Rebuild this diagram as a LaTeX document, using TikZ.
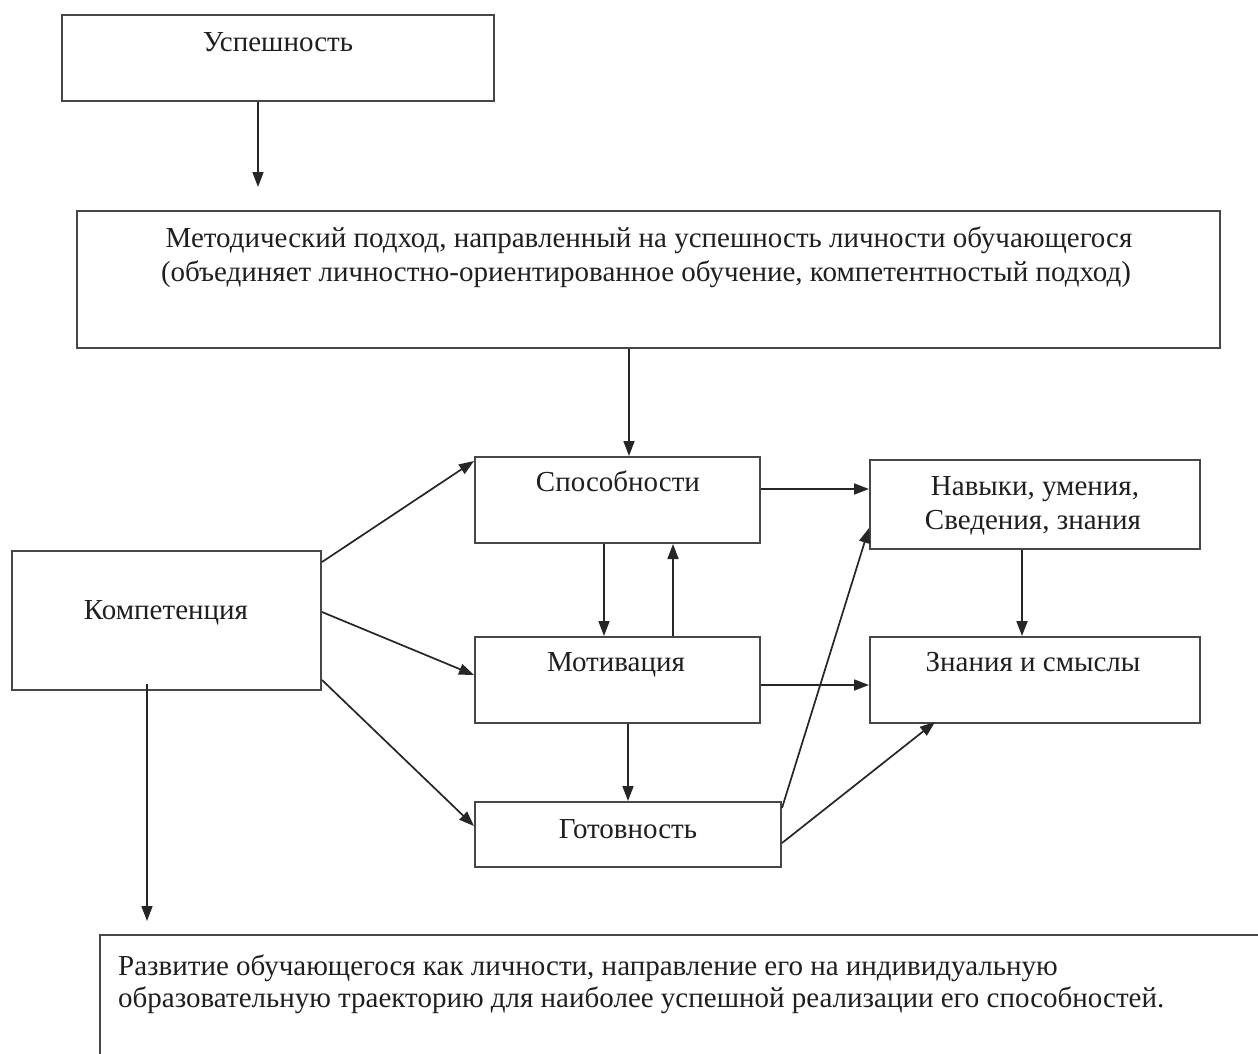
\documentclass[tikz,border=0pt]{standalone}
\usepackage{fontspec}
\setmainfont{Liberation Serif}
\usetikzlibrary{arrows.meta}
\begin{document}
\begin{tikzpicture}[x=1pt,y=-1pt,
  box/.style={draw=black!72, line width=2pt, rectangle, inner sep=0pt},
  txt/.style={anchor=base, inner sep=0pt, font=\fontsize{29}{34}\selectfont, text=black!88},
  ltxt/.style={txt, anchor=base west},
  arr/.style={draw=black!85, line width=1.7pt, -{Triangle[length=15pt,width=11pt]}}]
\useasboundingbox (0,0) rectangle (1258,1053);
\fill[white] (0,0) rectangle (1258,1053);
% boxes
\node[box, minimum width=432pt, minimum height=86pt] (usp) at (278,58) {};
\node[box, minimum width=1143pt, minimum height=137pt] (met) at (648.5,279.5) {};
\node[box, minimum width=285pt, minimum height=86pt] (spo) at (617.5,500) {};
\node[box, minimum width=330pt, minimum height=89pt] (nav) at (1035,504.5) {};
\node[box, minimum width=309pt, minimum height=139pt] (kom) at (166.5,620.5) {};
\node[box, minimum width=285pt, minimum height=86pt] (mot) at (617.5,680) {};
\node[box, minimum width=330pt, minimum height=86pt] (zna) at (1035,680) {};
\node[box, minimum width=306pt, minimum height=65pt] (got) at (628,834.5) {};
\begin{scope}
\clip (0,0) rectangle (1258,1053);
\node[box, minimum width=1180pt, minimum height=140pt] (raz) at (690,1005) {};
\end{scope}
% texts
\node[txt] (tusp) at (278,51) {Успешность};
\node[txt] (tmet1) at (649,247) {Методический подход, направленный на успешность личности обучающегося};
\node[txt] (tmet2) at (646,281) {(объединяет личностно-ориентированное обучение, компетентностый подход)};
\node[txt] (tspo) at (618,491) {Способности};
\node[txt] (tnav1) at (1035,495) {Навыки, умения,};
\node[txt] (tnav2) at (1033,529) {Сведения, знания};
\node[txt] (tkom) at (166,619) {Компетенция};
\node[txt] (tmot) at (616,671) {Мотивация};
\node[txt] (tzna) at (1033,671) {Знания и смыслы};
\node[txt] (tgot) at (628,838) {Готовность};
\node[ltxt] (traz1) at (118,975) {Развитие обучающегося как личности, направление его на индивидуальную};
\node[ltxt] (traz2) at (118,1007) {образовательную траекторию для наиболее успешной реализации его способностей.};
% free ends
\coordinate (e1) at (258,187);
\coordinate (e2) at (147,921);
% connectors
\draw[arr] ([xshift=-20pt]usp.south) -- (e1);
\draw[arr] ([xshift=-19.5pt]met.south) -- ([xshift=11.5pt]spo.north);
\draw[arr] ([yshift=11pt]spo.east) -- ([yshift=15.5pt]nav.west);
\draw[arr] ([xshift=-13.5pt]spo.south) -- ([xshift=-13.5pt]mot.north);
\draw[arr] ([xshift=55.5pt]mot.north) -- ([xshift=55.5pt]spo.south);
\draw[arr] ([xshift=-13pt]nav.south) -- ([xshift=-13pt]zna.north);
\draw[arr] ([yshift=-5pt]mot.east) -- ([yshift=-5pt]zna.west);
\draw[arr] ([xshift=10.5pt]mot.south) -- (got.north);
\draw[arr] ([yshift=58.5pt]kom.east) -- ([yshift=39pt]spo.west);
\draw[arr] ([yshift=8.5pt]kom.east) -- ([yshift=5pt]mot.west);
\draw[arr] ([yshift=-59.5pt]kom.east) -- ([yshift=8.5pt]got.west);
\draw[arr] ([xshift=-19.5pt,yshift=7pt]kom.south) -- (e2);
\draw[arr] ([yshift=26.5pt]got.east) -- ([yshift=-23.5pt]nav.west);
\draw[arr] ([yshift=-8.5pt]got.east) -- ([xshift=-100pt,yshift=2pt]zna.south);
\end{tikzpicture}
\end{document}
